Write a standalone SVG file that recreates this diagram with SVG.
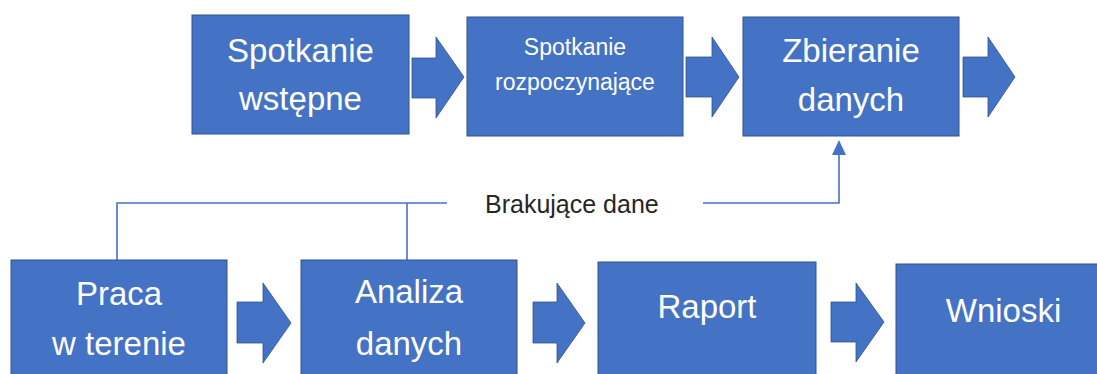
<svg xmlns="http://www.w3.org/2000/svg" width="1097" height="374" viewBox="0 0 1097 374">
<style>
.box{fill:#4472C4;stroke:#2F528F;stroke-width:1}
.arr{fill:#4472C4;stroke:#2F528F;stroke-width:0.8}
.t{font-family:"Liberation Sans",Arial,sans-serif;fill:#FFFFFF;text-anchor:middle;font-size:33px}
.ts{font-size:23px}
.ln{fill:none;stroke:#4472C4;stroke-width:1.6}
.lbl{font-family:"Liberation Sans",Arial,sans-serif;fill:#262626;font-size:25px}
</style>
<rect width="1097" height="374" fill="#FFFFFF"/>
<g id="connectors">
<path class="ln" d="M117,260 V203 H447"/>
<path class="ln" d="M407,260 V203"/>
<path class="ln" d="M703,203 H839 V154"/>
<polygon points="839,140 832,155 846,155" fill="#4472C4"/>
<text class="lbl" x="485" y="213">Brakujące dane</text>
</g>
<g id="arrows">
<polygon class="arr" points="412,58 436,58 436,37 464,77 436,118 436,98 412,98"/>
<polygon class="arr" points="686,57 712,57 712,37 739,77 712,117 712,97 686,97"/>
<polygon class="arr" points="963,57 988,57 988,37 1015,77 988,117 988,97 963,97"/>
<polygon class="arr" points="237,302 263,302 263,283 291,323 263,363 263,343 237,343"/>
<polygon class="arr" points="533,302 557,302 557,283 585,323 557,363 557,343 533,343"/>
<polygon class="arr" points="831,302 856,302 856,283 884,322 856,362 856,342 831,342"/>
</g>
<g id="spotkanie-wstepne">
<rect class="box" x="192" y="15" width="217" height="119"/>
<text class="t" x="300.5" y="62">Spotkanie</text>
<text class="t" x="300.5" y="110">wstępne</text>
</g>
<g id="spotkanie-rozpoczynajace">
<rect class="box" x="467" y="17" width="216" height="119"/>
<text class="t ts" x="575" y="55">Spotkanie</text>
<text class="t ts" x="575" y="90">rozpoczynające</text>
</g>
<g id="zbieranie-danych">
<rect class="box" x="743" y="17" width="216" height="119"/>
<text class="t" x="851" y="62">Zbieranie</text>
<text class="t" x="851" y="111">danych</text>
</g>
<g id="praca-w-terenie">
<rect class="box" x="11" y="260" width="216" height="130"/>
<text class="t" x="119" y="305">Praca</text>
<text class="t" x="119" y="355">w terenie</text>
</g>
<g id="analiza-danych">
<rect class="box" x="301" y="260" width="216" height="130"/>
<text class="t" x="409" y="303">Analiza</text>
<text class="t" x="409" y="355">danych</text>
</g>
<g id="raport">
<rect class="box" x="598" y="262" width="218" height="130"/>
<text class="t" x="707" y="318">Raport</text>
</g>
<g id="wnioski">
<rect class="box" x="896" y="264" width="215" height="130"/>
<text class="t" x="1003.5" y="322">Wnioski</text>
</g>
</svg>
